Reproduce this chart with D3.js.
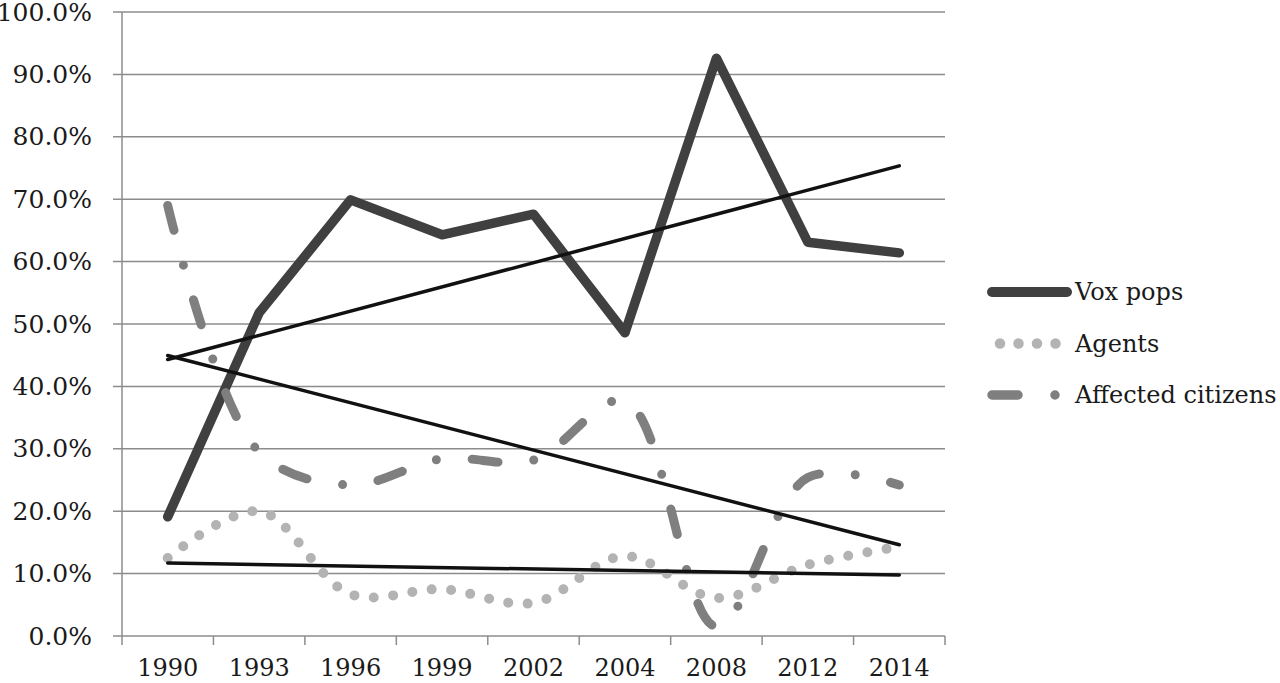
<!DOCTYPE html>
<html>
<head>
<meta charset="utf-8">
<script src="https://cdn.jsdelivr.net/npm/d3@7"></script>
<style>
  body { margin: 0; background: #fff; }
  text { font-family: "DejaVu Serif", serif; fill: #1a1a1a; }
</style>
</head>
<body>
<div id="chart"></div>
<script>
// categories (survey years)
const years = ["1990", "1993", "1996", "1999", "2002", "2004", "2008", "2012", "2014"];

// shares per year, in percent
const voxPops = [19.1, 51.8, 69.9, 64.3, 67.6, 48.6, 92.6, 63.1, 61.4];
const agents = [12.5, 20.0, 6.7, 7.5, 5.3, 12.8, 6.1, 11.4, 14.3];
const affected = [69.0, 29.5, 24.2, 28.4, 28.2, 37.7, 1.5, 25.4, 24.2];

const yTicks = [0, 10, 20, 30, 40, 50, 60, 70, 80, 90, 100];

const series = [
    { name: "Vox pops", values: voxPops, color: "#404040", width: 9.5, dash: null, smooth: false },
    { name: "Agents", values: agents, color: "#b3b3b3", width: 10, dash: "0 19.5", smooth: true },
    { name: "Affected citizens", values: affected, color: "#7f7f7f", width: 9, dash: "26 36 0 36", smooth: true }
];

const width = 1280, height = 683;
const plotLeft = 122, plotRight = 945, plotTop = 12, plotBottom = 636;

const svg = d3.select("#chart").append("svg")
    .attr("width", width)
    .attr("height", height);

const x = d3.scaleBand().domain(years).range([plotLeft, plotRight]).padding(0);
const y = d3.scaleLinear().domain([0, 100]).range([plotBottom, plotTop]);
const cx = d => x(d) + x.bandwidth() / 2;

// gridlines
svg.append("g")
    .selectAll("line")
    .data(yTicks)
    .join("line")
    .attr("x1", plotLeft - 9)
    .attr("x2", plotRight)
    .attr("y1", d => y(d))
    .attr("y2", d => y(d))
    .attr("stroke", "#8c8c8c")
    .attr("stroke-width", 1.5);

// y axis labels
const yAxis = svg.append("g")
    .attr("transform", `translate(${plotLeft},0)`)
    .call(d3.axisLeft(y).tickValues(yTicks).tickFormat(d => d.toFixed(1) + "%").tickSize(9).tickPadding(21));
yAxis.select(".domain").remove();
yAxis.selectAll("line").remove();
yAxis.selectAll("text").attr("font-size", 25).attr("font-family", "DejaVu Serif").attr("fill", "#1a1a1a");

// y axis line
svg.append("line")
    .attr("x1", plotLeft).attr("x2", plotLeft)
    .attr("y1", plotTop).attr("y2", plotBottom)
    .attr("stroke", "#8c8c8c").attr("stroke-width", 1.5);

// x axis labels
const xAxis = svg.append("g")
    .attr("transform", `translate(0,${plotBottom})`)
    .call(d3.axisBottom(x).tickSize(0).tickPadding(23));
xAxis.select(".domain").remove();
xAxis.selectAll("text").attr("font-size", 24).attr("font-family", "DejaVu Serif").attr("fill", "#1a1a1a");

// boundary ticks on x axis
svg.append("g")
    .selectAll("line")
    .data(years.map(d => x(d)).concat([plotRight]))
    .join("line")
    .attr("x1", d => d).attr("x2", d => d)
    .attr("y1", plotBottom).attr("y2", plotBottom + 9)
    .attr("stroke", "#8c8c8c").attr("stroke-width", 1.5);

// data lines
const linePlain = d3.line().x((d, i) => cx(years[i])).y(d => y(d));
const lineSmooth = d3.line().x((d, i) => cx(years[i])).y(d => y(d)).curve(d3.curveCatmullRom.alpha(0.5));

svg.append("g")
    .selectAll("path")
    .data(series)
    .join("path")
    .attr("d", s => (s.smooth ? lineSmooth : linePlain)(s.values))
    .attr("fill", "none")
    .attr("stroke", s => s.color)
    .attr("stroke-width", s => s.width)
    .attr("stroke-linecap", "round")
    .attr("stroke-linejoin", "round")
    .attr("stroke-dasharray", s => s.dash);

// linear trendlines (least squares on category index)
function trend(values) {
    const n = values.length;
    const xs = values.map((v, i) => i + 1);
    const mx = d3.mean(xs), my = d3.mean(values);
    const slope = d3.sum(xs, (xv, i) => (xv - mx) * (values[i] - my)) / d3.sum(xs, xv => (xv - mx) ** 2);
    const icpt = my - slope * mx;
    return [icpt + slope, icpt + slope * n];
}

svg.append("g")
    .selectAll("line")
    .data(series)
    .join("line")
    .attr("x1", cx(years[0]))
    .attr("x2", cx(years[years.length - 1]))
    .attr("y1", s => y(trend(s.values)[0]))
    .attr("y2", s => y(trend(s.values)[1]))
    .attr("stroke", "#111")
    .attr("stroke-width", 3.5)
    .attr("stroke-linecap", "round");

// legend
const legend = svg.append("g")
    .selectAll("g")
    .data(series)
    .join("g")
    .attr("transform", (d, i) => `translate(0,${292 + i * 51.5})`);

legend.append("line")
    .attr("x1", s => s.name === "Agents" ? 1000 : 992)
    .attr("x2", s => s.name === "Agents" ? 1056 : 1067)
    .attr("stroke", s => s.color)
    .attr("stroke-width", s => s.width + 0.5)
    .attr("stroke-linecap", "round")
    .attr("stroke-dasharray", s => s.name === "Agents" ? "0 18.5" : (s.dash ? "26 37 0 100" : null));

legend.append("text")
    .attr("x", 1075)
    .attr("y", 8)
    .attr("font-size", 24)
    .text(s => s.name);
</script>
</body>
</html>
